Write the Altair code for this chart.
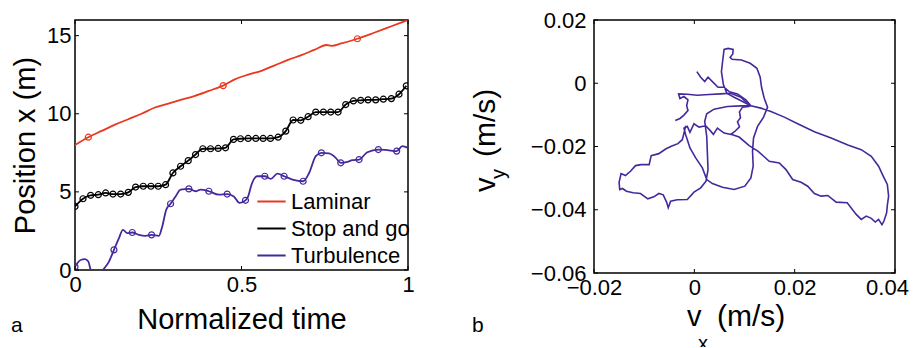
import altair as alt
import pandas as pd

FONT = "Liberation Sans"

# ---------------- Panel a : position vs normalized time ----------------
lam_t = [0, 0.04, 0.08, 0.12, 0.16, 0.2, 0.24, 0.28, 0.32, 0.36, 0.40, 0.445, 0.48,
         0.52, 0.56, 0.60, 0.64, 0.68, 0.72, 0.755, 0.77, 0.80, 0.848, 0.90, 0.95, 1.0]
lam_x = [8.0, 8.5, 8.9, 9.3, 9.65, 10.0, 10.4, 10.65, 10.9, 11.15, 11.45, 11.8, 12.2,
         12.5, 12.75, 13.1, 13.45, 13.75, 14.1, 14.4, 14.35, 14.5, 14.8, 15.2, 15.6, 16.0]
lam_mk_t = [0.04, 0.445, 0.848]
lam_mk_x = [8.5, 11.8, 14.8]

sg_t = [0, 0.024, 0.047, 0.07, 0.092, 0.114, 0.137, 0.16, 0.182, 0.205, 0.228, 0.25,
        0.272, 0.294, 0.317, 0.34, 0.362, 0.384, 0.407, 0.43, 0.452, 0.476, 0.497,
        0.52, 0.543, 0.565, 0.587, 0.61, 0.633, 0.655, 0.678, 0.7, 0.723, 0.746,
        0.768, 0.79, 0.813, 0.836, 0.858, 0.88, 0.903, 0.926, 0.95, 0.973, 0.995]
sg_x = [4.07, 4.56, 4.78, 4.82, 4.93, 4.86, 4.86, 4.97, 5.31, 5.36, 5.36, 5.36,
        5.46, 6.21, 6.64, 7.0, 7.39, 7.76, 7.76, 7.78, 7.82, 8.36, 8.4,
        8.42, 8.42, 8.42, 8.42, 8.5, 8.89, 9.6, 9.58, 9.81, 10.11, 10.11,
        10.11, 10.11, 10.59, 10.82, 10.86, 10.89, 10.89, 10.93, 10.97, 11.25, 11.79]

tb_t = [0, 0.017, 0.03, 0.04, 0.047, 0.065, 0.084, 0.102, 0.117, 0.132, 0.144, 0.157,
        0.172, 0.192, 0.212, 0.23, 0.252, 0.262, 0.274, 0.287, 0.302, 0.317, 0.342,
        0.362, 0.377, 0.402, 0.432, 0.457, 0.477, 0.494, 0.512, 0.52, 0.53, 0.547,
        0.57, 0.588, 0.608, 0.628, 0.653, 0.685, 0.703, 0.723, 0.74, 0.763, 0.783,
        0.798, 0.818, 0.833, 0.853, 0.878, 0.911, 0.938, 0.966, 0.983, 1.0]
tb_x = [0.21, 0.64, 0.69, 0.54, 0.0, -0.6, 0.0, 0.54, 1.29, 2.04, 2.57, 2.36,
        2.4, 2.25, 2.19, 2.25, 2.19, 2.79, 3.86, 4.24, 4.71, 5.14, 5.19,
        5.04, 5.14, 5.04, 4.82, 4.86, 4.71, 4.29, 4.46, 4.71, 5.46, 6.0,
        6.0, 5.83, 6.17, 6.0, 5.79, 5.68, 6.21, 7.29, 7.5, 7.46, 7.18,
        6.86, 6.92, 7.03, 7.07, 7.54, 7.71, 7.67, 7.61, 7.93, 7.82]
tb_mk_t = [0, 0.117, 0.172, 0.23, 0.287, 0.342, 0.402, 0.457, 0.512, 0.57, 0.628,
           0.685, 0.74, 0.798, 0.853, 0.911, 0.966]
tb_mk_x = [0.21, 1.29, 2.4, 2.25, 4.24, 5.19, 5.04, 4.86, 4.46, 6.0, 6.0,
           5.68, 7.5, 6.86, 7.07, 7.71, 7.61]

series_names = ["Laminar", "Stop and go", "Turbulence"]
series_colors = ["#e8381e", "#000000", "#45299c"]

left_x_ticks = [0, 0.5, 1]
left_y_ticks = [0, 5, 10, 15]

# ---------------- Panel b : velocity trajectory (units 1e-3 m/s) ----------------
seg1_vx = [0.5, 1.27, 2.07, 2.73, 3.8, 4.73, 5.93, 7.0, 8.6, 10.27, 11.27,
           7.93, 6.47, 5.8, 5.4, 5.67, 5.93, 6.73, 7.73, 7.67, 7.13, 7.53, 9.4, 11.13,
           12.47, 13.13, 13.4, 13.93, 14.6,
           13.8, 12.6, 11.8, 11.6, 11.73, 11.27, 10.07, 7.93, 5.6, 3.6, 2.47,
           1.6, 0.27, -0.87, -1.4, -1.73, -2.07, -1.4, -0.87, -0.07, 0.93, 2.27, 3.13,
           3.8, 4.6, 5.93, 7.6, 8.93, 10.93, 12.73, 14.93, 16.93, 18.27, 19.6, 21.27,
           22.6, 23.93, 25.27, 26.6, 28.27, 30.47, 32.27, 33.27, 34.27, 35.27, 36.07,
           36.73, 37.4, 37.8, 38.33, 38.47, 38.73, 38.47, 37.6, 36.73, 35.27, 33.27,
           30.6, 27.27, 23.93, 20.6, 17.93, 15.27, 13.27, 11.27,
           9.27, 6.6, 3.93, 2.47, 2.07, 2.47, 2.6, 2.73, 2.33,
           1.27, -0.07, -1.4, -3.4, -4.73, -5.2, -5.53, -6.2, -7.07, -8.07, -9.27,
           -10.73, -12.2, -13.53, -14.33, -14.87, -15.0, -14.6, -13.73, -12.73,
           -11.73, -10.6, -9.0, -8.6, -7.07, -5.73, -4.6, -3.27, -2.4, -1.93, -1.73]
seg1_vy = [3.67, 1.89, 0.52, 1.89, 0.21, -1.26, -1.26, -2.73, -3.36, -5.25, -7.14,
           -4.41, -3.15, -0.52, 3.67, 7.35, 10.71, 11.02, 10.71, 9.24, 8.19, 7.56, 7.35, 6.3,
           4.72, 1.89, -1.26, -4.72, -7.56,
           -10.71, -13.65, -17.32, -21.52, -26.25, -29.92, -32.55, -33.6, -32.86, -31.71, -30.45,
           -26.77, -23.62, -20.47, -17.85, -16.27, -14.17, -13.65, -15.54, -12.81, -13.86, -13.44, -14.91,
           -16.17, -14.17, -15.75, -16.27, -17.01, -19.74, -21.52, -24.67, -25.2, -27.3, -30.45, -31.29,
           -32.55, -34.86, -35.7, -35.49, -37.59, -37.8, -41.47, -43.04, -41.99, -42.73, -43.88,
           -43.04, -44.72, -43.57, -40.94, -38.64, -35.7, -32.02, -29.19, -26.25, -23.1, -21.0,
           -19.53, -17.32, -15.33, -12.81, -10.71, -8.92, -7.87, -7.14,
           -7.14, -7.35, -8.19, -9.66, -12.07, -16.8, -22.05, -27.3, -30.97,
           -33.07, -34.44, -36.75, -36.85, -37.27, -39.37, -37.59, -35.28, -34.86, -35.91, -36.54,
           -34.86, -34.65, -34.12, -33.28, -33.6, -31.29, -28.56, -29.19, -27.82,
           -26.04, -25.72, -25.72, -22.89, -22.26, -20.79, -19.95, -19.11, -17.85, -14.91, -13.44]
seg2_vx = [11.13, 9.27, 7.27, 5.27, 2.93, 0.6, -1.4, -3.13, -2.87, -2.07, -1.27, -1.53,
           -1.27, -2.07, -2.87, -3.8]
seg2_vy = [-7.14, -4.41, -3.15, -3.36, -3.57, -3.78, -3.46, -3.36, -4.83, -4.2, -5.25, -7.14,
           -8.61, -10.08, -11.13, -11.76]
seg3_vx = [10.93, 9.6, 9.0, 9.2, 8.6, 9.0, 8.0, 7.27]
seg3_vy = [-7.35, -7.56, -9.03, -10.92, -12.18, -13.75, -15.33, -16.17]

right_x_ticks = [-0.02, 0, 0.02, 0.04]
right_y_ticks = [0.02, 0, -0.02, -0.04, -0.06]

PURPLE = "#45299c"

# ---------------- build tables ----------------
rows = []
for name, ts, xs_ in [("Laminar", lam_t, lam_x), ("Stop and go", sg_t, sg_x),
                      ("Turbulence", tb_t, tb_x)]:
    for t, x in zip(ts, xs_):
        rows.append({"t": t, "x": x, "series": name})
lines_df = pd.DataFrame(rows)

mrows = []
for name, ts, xs_ in [("Laminar", lam_mk_t, lam_mk_x), ("Stop and go", sg_t, sg_x),
                      ("Turbulence", tb_mk_t, tb_mk_x)]:
    for t, x in zip(ts, xs_):
        mrows.append({"t": t, "x": x, "series": name})
mk_df = pd.DataFrame(mrows)

prow = []
for sid, (vxs, vys) in enumerate([(seg1_vx, seg1_vy), (seg2_vx, seg2_vy), (seg3_vx, seg3_vy)]):
    for i, (a, b) in enumerate(zip(vxs, vys)):
        prow.append({"vx": a / 1000.0, "vy": b / 1000.0, "seg": sid, "idx": i})
path_df = pd.DataFrame(prow)

W1, H1 = 333, 250
W2, H2 = 301, 253
TICK = 4

xs1 = alt.Scale(domain=[0, 1], nice=False, zero=False)
ys1 = alt.Scale(domain=[0, 16], nice=False, zero=False)
xs2 = alt.Scale(domain=[-0.02, 0.04], nice=False, zero=False)
ys2 = alt.Scale(domain=[-0.06, 0.02], nice=False, zero=False)


def inward_ticks(xvals, yvals, xscale, yscale, W, H, xf, yf):
    xdf = pd.DataFrame({xf: xvals})
    ydf = pd.DataFrame({yf: yvals})
    base_x = alt.Chart(xdf).mark_rule(color="black", strokeWidth=1)
    base_y = alt.Chart(ydf).mark_rule(color="black", strokeWidth=1)
    return [
        base_x.encode(x=alt.X(f"{xf}:Q", scale=xscale), y=alt.value(H), y2=alt.value(H - TICK)),
        base_x.encode(x=alt.X(f"{xf}:Q", scale=xscale), y=alt.value(0), y2=alt.value(TICK)),
        base_y.encode(y=alt.Y(f"{yf}:Q", scale=yscale), x=alt.value(0), x2=alt.value(TICK)),
        base_y.encode(y=alt.Y(f"{yf}:Q", scale=yscale), x=alt.value(W), x2=alt.value(W - TICK)),
    ]


def label(text, x, y, size, angle=0, align="left"):
    kw = dict(align=align, baseline="alphabetic", fontSize=size, font=FONT, color="black")
    if angle:
        kw["angle"] = angle
    return alt.Chart(pd.DataFrame({"s": [text]})).mark_text(**kw).encode(
        x=alt.value(x), y=alt.value(y), text="s:N")


color = alt.Color(
    "series:N",
    scale=alt.Scale(domain=series_names, range=series_colors),
    legend=alt.Legend(title=None, orient="none", legendX=181, legendY=166,
                      labelFontSize=22, labelFont=FONT, labelColor="black",
                      symbolType="stroke", symbolStrokeWidth=2, symbolSize=800,
                      labelOffset=4, rowPadding=0, padding=0),
)

left_lines = alt.Chart(lines_df).mark_line(strokeWidth=1.8, clip=True, interpolate="monotone").encode(
    x=alt.X("t:Q", scale=xs1,
            axis=alt.Axis(values=left_x_ticks, format="~g", title="Normalized time",
                          labelFontSize=22, titleFontSize=29, labelPadding=4, titlePadding=10,
                          labelFlush=False)),
    y=alt.Y("x:Q", scale=ys1,
            axis=alt.Axis(values=left_y_ticks, format="~g", title="Position x (m)",
                          labelFontSize=22, titleFontSize=29, labelPadding=4, titlePadding=6,
                          labelFlush=False)),
    color=color,
)
left_pts = alt.Chart(mk_df).mark_point(filled=False, size=36, strokeWidth=1.2, opacity=1, clip=True).encode(
    x=alt.X("t:Q", scale=xs1),
    y=alt.Y("x:Q", scale=ys1),
    stroke=alt.Stroke("series:N", scale=alt.Scale(domain=series_names, range=series_colors), legend=None),
)

left = alt.layer(
    left_lines, left_pts, *inward_ticks(left_x_ticks, left_y_ticks, xs1, ys1, W1, H1, "t", "x"),
    label("a", -64, 312, 21),
).properties(width=W1, height=H1)

right_path = alt.Chart(path_df).mark_line(strokeWidth=1.6, color=PURPLE).encode(
    x=alt.X("vx:Q", scale=xs2,
            axis=alt.Axis(values=right_x_ticks, format="~g", title=None,
                          labelFontSize=22, labelPadding=4, labelFlush=False,
                          labelOffset={"condition": {"test": "datum.value > 0.039", "value": -8},
                                       "value": 0})),
    y=alt.Y("vy:Q", scale=ys2,
            axis=alt.Axis(values=right_y_ticks, format="~g", title=None,
                          labelFontSize=22, labelPadding=8, labelFlush=False)),
    detail="seg:N",
    order="idx:Q",
)

right = alt.layer(
    right_path, *inward_ticks(right_x_ticks, right_y_ticks, xs2, ys2, W2, H2, "vx", "vy"),
    label("v", 93, 306, 29),
    label("x", 104, 330, 20),
    label("(m/s)", 123, 306, 30),
    label("v", -99, 172, 29, angle=270),
    label("y", -89, 159, 20, angle=270),
    label("(m/s)", -99, 137, 30, angle=270),
    label("b", -122, 312, 21),
).properties(width=W2, height=H2)

chart = alt.hconcat(left, right, spacing=186, bounds="flush").configure_view(
    stroke="black", strokeWidth=1.5
).configure_axis(
    domain=False, ticks=False, grid=False, labelFont=FONT, titleFont=FONT,
    labelColor="black", titleColor="black", titleFontWeight="normal"
).properties(padding={"left": 2, "top": 0, "right": 0, "bottom": -8})

chart.save("out.html", embed_options={"renderer": "svg", "actions": False})
